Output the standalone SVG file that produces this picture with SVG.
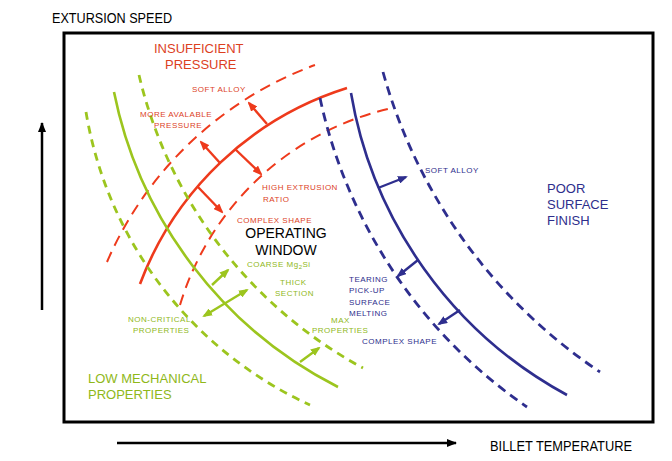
<svg xmlns="http://www.w3.org/2000/svg" width="672" height="461" viewBox="0 0 672 461">
<style>
text{font-family:"Liberation Sans",Arial,sans-serif}
.big{font-size:13px}
.sm{font-size:8px;letter-spacing:0.5px}
.r{fill:#dc3f1f}
.g{fill:#8fb81a}
.b{fill:#2e2e8c}
.rl{fill:none;stroke:#ee3a1c}
.gl{fill:none;stroke:#9cc51e}
.bl{fill:none;stroke:#2e2e8e}
.solid{stroke-width:2.6}
.rd{stroke-width:2;stroke-dasharray:11 7}
.gd{stroke-width:2.8;stroke-dasharray:8 6}
.bd{stroke-width:2.8;stroke-dasharray:9 6}
.ar{stroke-width:2.4}
</style>
<defs>
<marker id="ahK" viewBox="0 0 10 8" refX="9" refY="4" markerWidth="10" markerHeight="8" markerUnits="userSpaceOnUse" orient="auto"><path d="M0,0 L10,4 L0,8 z" fill="#000"/></marker>
<marker id="ahR" viewBox="0 0 10 8" refX="8" refY="4" markerWidth="10" markerHeight="8" markerUnits="userSpaceOnUse" orient="auto-start-reverse"><path d="M0,0 L10,4 L0,8 z" fill="#ee3a1c"/></marker>
<marker id="ahG" viewBox="0 0 10 8" refX="8" refY="4" markerWidth="10" markerHeight="8" markerUnits="userSpaceOnUse" orient="auto-start-reverse"><path d="M0,0 L10,4 L0,8 z" fill="#9cc51e"/></marker>
<marker id="ahB" viewBox="0 0 10 8" refX="8" refY="4" markerWidth="10" markerHeight="8" markerUnits="userSpaceOnUse" orient="auto-start-reverse"><path d="M0,0 L10,4 L0,8 z" fill="#2e2e8e"/></marker>
</defs>
<rect width="672" height="461" fill="#fff"/>

<g id="axes">
<text x="52" y="23" font-size="14" textLength="120" lengthAdjust="spacingAndGlyphs">EXTURSION SPEED</text>
<text x="490" y="451" font-size="14" textLength="142" lengthAdjust="spacingAndGlyphs">BILLET TEMPERATURE</text>
<line x1="42" y1="310" x2="42" y2="123" stroke="#000" stroke-width="2.5" marker-end="url(#ahK)"/>
<line x1="117" y1="443" x2="456" y2="443" stroke="#000" stroke-width="2.5" marker-end="url(#ahK)"/>
<rect id="frame" x="64" y="33" width="589" height="389" fill="none" stroke="#000" stroke-width="3"/>
</g>

<g id="connectors">
<g id="red-curves">
<path class="rl rd" d="M107,262 A363,363 0 0 1 315,65"/>
<path class="rl solid" stroke-width="3.2" d="M140,284 A325,325 0 0 1 347,88"/>
<path class="rl rd" d="M180,305 A286,286 0 0 1 388,109"/>
</g>
<g id="green-curves">
<path class="gl gd" d="M86,112 A393,393 0 0 0 310,405"/>
<path class="gl solid" d="M114,92 A425,425 0 0 0 338,387"/>
<path class="gl gd" d="M139,75 A450,450 0 0 0 363,368"/>
</g>
<g id="blue-curves">
<path class="bl bd" d="M320,98 A503,503 0 0 0 527,407"/>
<path class="bl solid" d="M351,93 A424,424 0 0 0 567,395"/>
<path class="bl bd" d="M383,72 A532,532 0 0 0 600,372"/>
</g>
<g id="arrows">
<line class="rl ar" x1="267" y1="124" x2="249" y2="103" marker-end="url(#ahR)"/>
<line class="rl ar" x1="220" y1="163" x2="201" y2="142" marker-end="url(#ahR)"/>
<line class="rl ar" x1="235" y1="149" x2="261" y2="174" marker-end="url(#ahR)"/>
<line class="rl ar" x1="198" y1="187" x2="222" y2="212" marker-end="url(#ahR)"/>
<line class="gl ar" x1="212" y1="285" x2="228" y2="270" marker-end="url(#ahG)"/>
<line class="gl ar" x1="204" y1="316" x2="247" y2="290" marker-start="url(#ahG)" marker-end="url(#ahG)"/>
<line class="gl ar" x1="300" y1="362" x2="319" y2="348" marker-end="url(#ahG)"/>
<line class="bl ar" x1="378" y1="188" x2="406" y2="177" marker-end="url(#ahB)"/>
<line class="bl ar" x1="418" y1="260" x2="398" y2="276" marker-end="url(#ahB)"/>
<line class="bl ar" x1="460" y1="310" x2="439" y2="324" marker-end="url(#ahB)"/>
</g>
</g>

<g id="insufficient-pressure">
<text class="big r" x="154" y="53">INSUFFICIENT</text>
<text class="big r" x="165" y="69">PRESSURE</text>
</g>
<g id="red-labels">
<text class="sm r" x="192" y="92">SOFT ALLOY</text>
<text class="sm r" x="140" y="117">MORE AVALABLE</text>
<text class="sm r" x="154" y="128">PRESSURE</text>
<text class="sm r" x="262" y="190">HIGH EXTRUSION</text>
<text class="sm r" x="263" y="202">RATIO</text>
<text class="sm r" x="237" y="223">COMPLEX SHAPE</text>
</g>
<g id="operating-window">
<text x="286" y="238" font-size="14" text-anchor="middle">OPERATING</text>
<text x="286" y="255" font-size="14" text-anchor="middle">WINDOW</text>
</g>
<g id="green-labels">
<text class="sm g" x="247" y="267">COARSE Mg<tspan font-size="6" dy="2">2</tspan><tspan dy="-2">Si</tspan></text>
<text class="sm g" x="280" y="285">THICK</text>
<text class="sm g" x="275" y="296">SECTION</text>
<text class="sm g" x="128" y="322">NON-CRITICAL</text>
<text class="sm g" x="133" y="333">PROPERTIES</text>
<text class="sm g" x="331" y="323">MAX</text>
<text class="sm g" x="312" y="333">PROPERTIES</text>
</g>
<g id="low-mechanical-properties">
<text class="big g" x="88" y="383">LOW MECHANICAL</text>
<text class="big g" x="88" y="399">PROPERTIES</text>
</g>
<g id="blue-labels">
<text class="sm b" x="425" y="173">SOFT ALLOY</text>
<text class="sm b" x="349" y="282">TEARING</text>
<text class="sm b" x="349" y="293">PICK-UP</text>
<text class="sm b" x="349" y="305">SURFACE</text>
<text class="sm b" x="349" y="316">MELTING</text>
<text class="sm b" x="362" y="344">COMPLEX SHAPE</text>
</g>
<g id="poor-surface-finish">
<text class="big b" x="547" y="193">POOR</text>
<text class="big b" x="547" y="209">SURFACE</text>
<text class="big b" x="547" y="225">FINISH</text>
</g>
</svg>
